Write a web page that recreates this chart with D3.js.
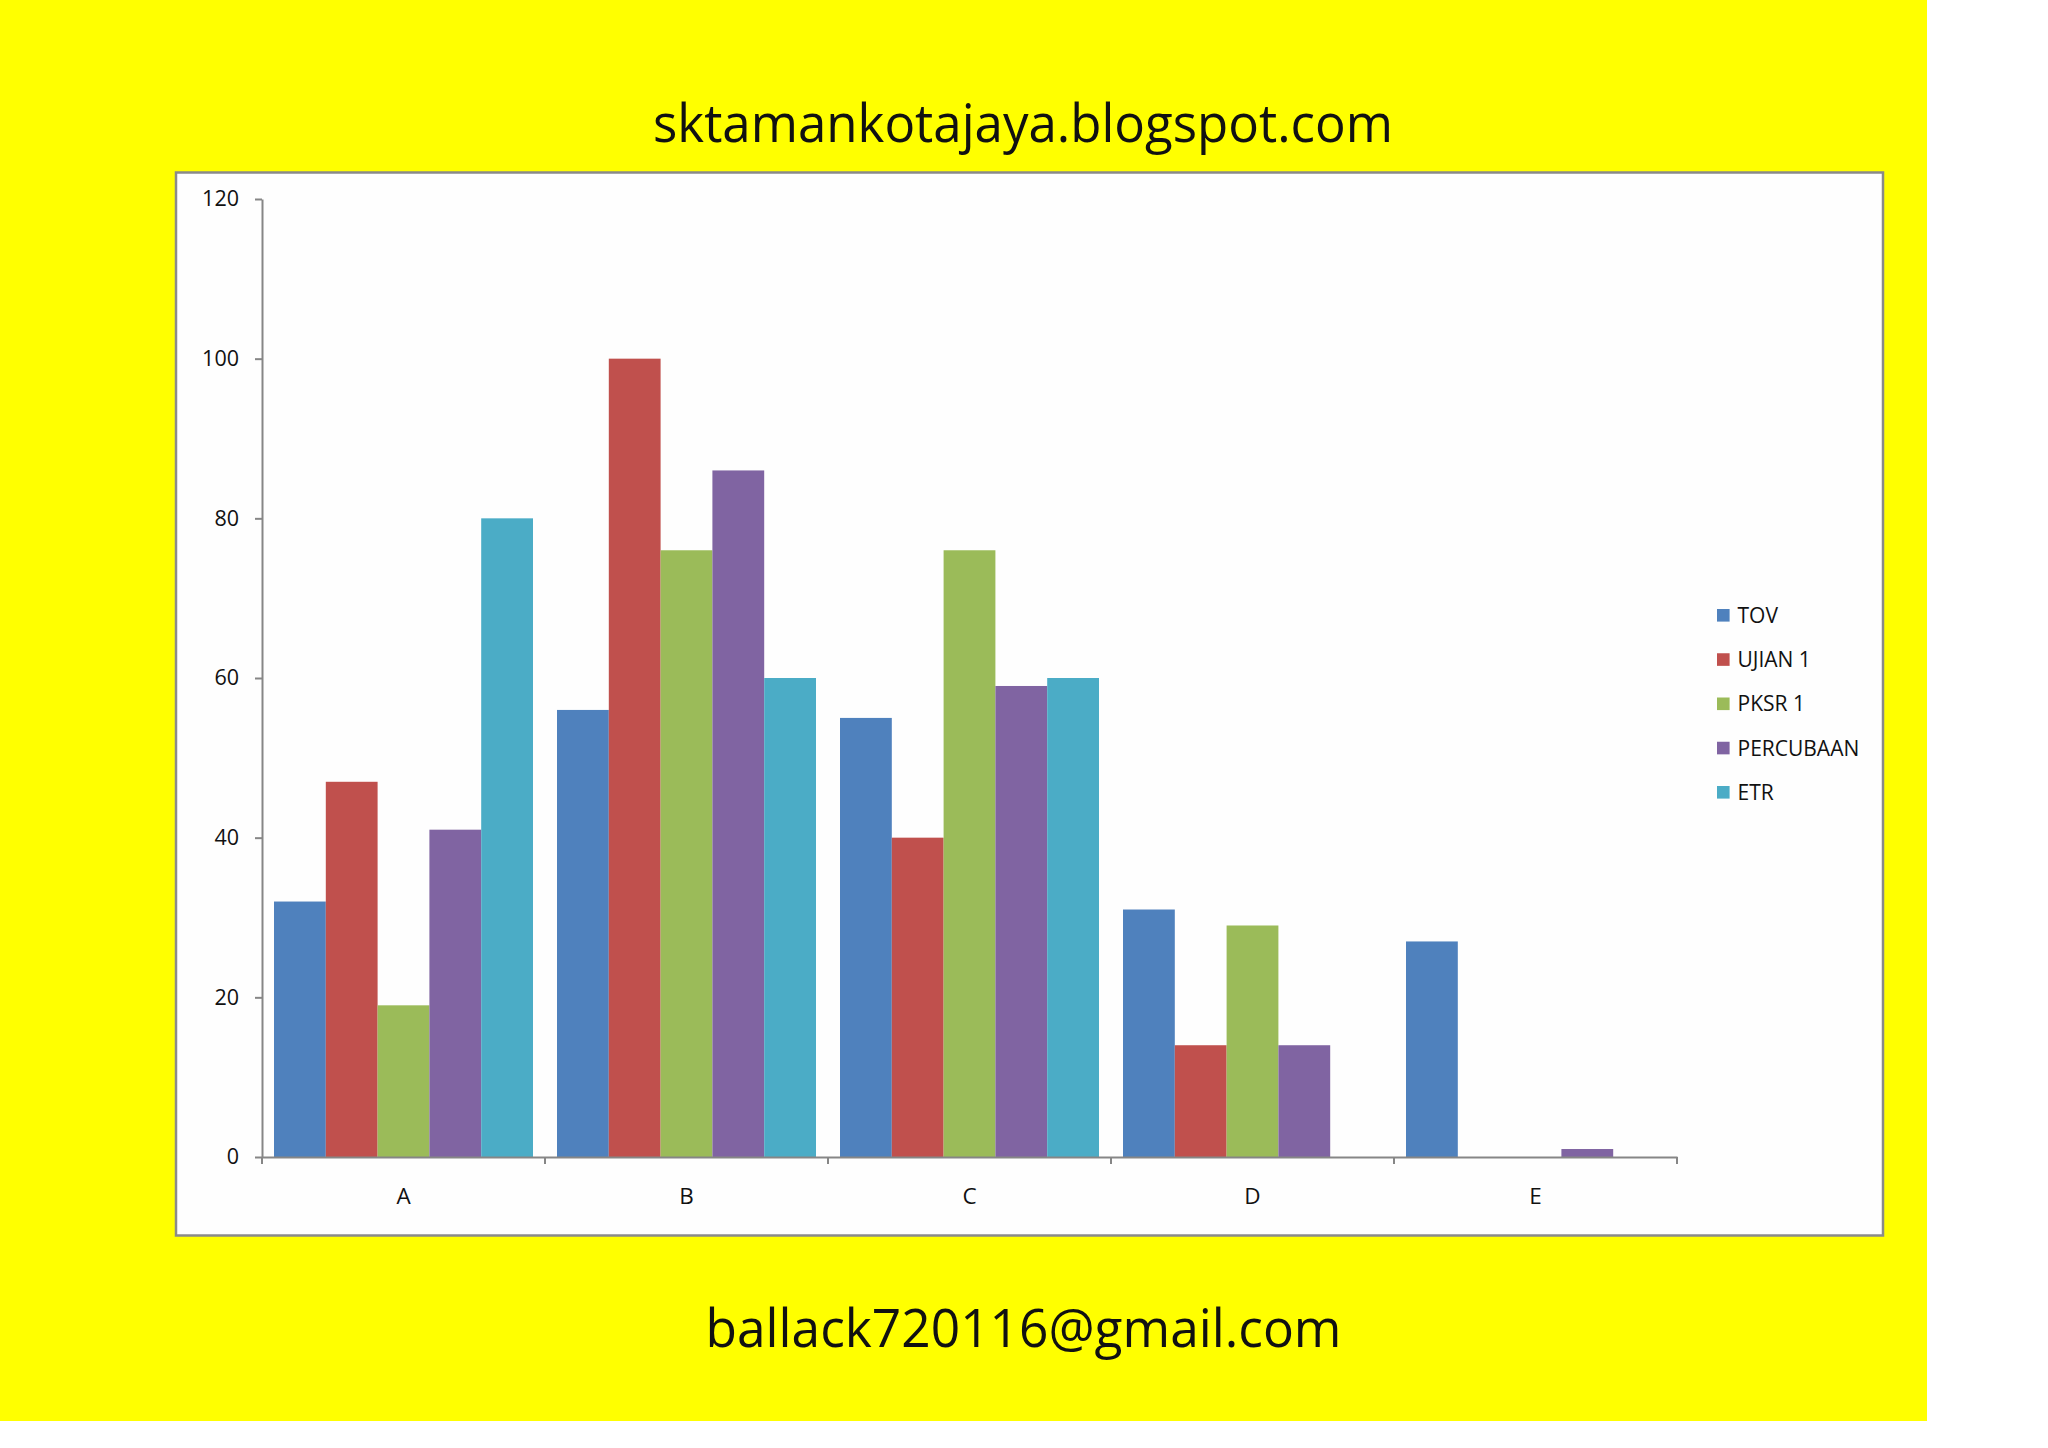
<!DOCTYPE html>
<html><head><meta charset="utf-8">
<script src="https://cdn.jsdelivr.net/npm/d3@7"></script>
<style>html,body{margin:0;padding:0;background:#fff;}svg{display:block;}</style>
</head><body>
<script>
const categories = ["A","B","C","D","E"];
const seriesNames = ["TOV","UJIAN 1","PKSR 1","PERCUBAAN","ETR"];
const TOV       = [32, 56, 55, 31, 27];
const UJIAN1    = [47, 100, 40, 14, 0];
const PKSR1     = [19, 76, 76, 29, 0];
const PERCUBAAN = [41, 86, 59, 14, 1];
const ETR       = [80, 60, 60, 0, 0];
const yTicks = [0, 20, 40, 60, 80, 100, 120];
const colors = ["#4F81BD","#C0504D","#9BBB59","#8064A2","#4BACC6"];
const titleText = "sktamankotajaya.blogspot.com";
const footerText = "ballack720116@gmail.com";

const seriesValues = [TOV, UJIAN1, PKSR1, PERCUBAAN, ETR];
const FONT = "'Open Sans', 'Noto Sans', sans-serif";

const W = 2048, H = 1448;
const svg = d3.select("body").append("svg").attr("width", W).attr("height", H);

// yellow slide background
svg.append("rect").attr("x",0).attr("y",0).attr("width",1927).attr("height",1421).attr("fill","#FFFF00");

// chart box
svg.append("rect").attr("x",176).attr("y",172.5).attr("width",1707).attr("height",1063)
  .attr("fill","#fefefe").attr("stroke","#8a8a8a").attr("stroke-width",2.5);

// titles
svg.append("text").attr("x",1023).attr("y",142).attr("text-anchor","middle")
  .attr("font-family",FONT).attr("font-size",53).attr("fill","#111")
  .attr("textLength",740).attr("lengthAdjust","spacingAndGlyphs").text(titleText);
svg.append("text").attr("x",1023.5).attr("y",1347).attr("text-anchor","middle")
  .attr("font-family",FONT).attr("font-size",53).attr("fill","#111")
  .attr("textLength",636).attr("lengthAdjust","spacingAndGlyphs").text(footerText);

// scales
const x0 = d3.scaleBand().domain(categories).range([262, 1677]).paddingInner(0).paddingOuter(0);
const gap = 12;
const x1 = d3.scaleBand().domain(seriesNames).range([gap, x0.bandwidth()-gap]).padding(0);
const y = d3.scaleLinear().domain([0,120]).range([1157, 199]);

// bars
const data = categories.map((c,i)=>({cat:c, vals: seriesNames.map((s,j)=>({s, v: seriesValues[j][i], j}))}));
const g = svg.append("g");
g.selectAll("g.cat").data(data).join("g").attr("class","cat")
  .attr("transform", d=>`translate(${x0(d.cat)},0)`)
  .selectAll("rect").data(d=>d.vals.filter(v=>v.v>0)).join("rect")
  .attr("x", d=>x1(d.s)).attr("width", x1.bandwidth())
  .attr("y", d=>y(d.v)).attr("height", d=>y(0)-y(d.v))
  .attr("fill", d=>colors[d.j]);

// y axis
const yAxis = d3.axisLeft(y).tickValues(yTicks).tickSize(7).tickSizeOuter(0).tickPadding(16);
const ya = svg.append("g").attr("transform","translate(262,0)").call(yAxis);
ya.select(".domain").attr("stroke","#868686").attr("stroke-width",2);
ya.selectAll(".tick line").attr("stroke","#868686").attr("stroke-width",2);
ya.selectAll(".tick text").attr("font-family",FONT).attr("font-size",21.5).attr("fill","#111");

// x axis: labels at category centres
const xAxis = d3.axisBottom(x0).tickSize(0).tickPadding(31).tickSizeOuter(0);
const xa = svg.append("g").attr("transform",`translate(0,${y(0)})`).call(xAxis);
xa.select(".domain").attr("stroke","#868686").attr("stroke-width",2);
xa.selectAll(".tick text").attr("font-family",FONT).attr("font-size",22.5).attr("fill","#111");
// boundary tick marks
const bounds = categories.map(c=>x0(c)).concat([x0.range()[1]]);
svg.append("g").selectAll("line").data(bounds).join("line")
  .attr("x1",d=>d).attr("x2",d=>d).attr("y1",y(0)).attr("y2",y(0)+7)
  .attr("stroke","#868686").attr("stroke-width",2);

// legend
const lg = svg.append("g");
const items = lg.selectAll("g").data(seriesNames).join("g")
  .attr("transform",(d,i)=>`translate(1717,${615.3 + i*44.25})`);
items.append("rect").attr("x",0).attr("y",-6.3).attr("width",12.6).attr("height",12.6)
  .attr("fill",(d,i)=>colors[i]);
items.append("text").attr("x",20.5).attr("y",0).attr("dy","0.36em")
  .attr("font-family",FONT).attr("font-size",21).attr("fill","#111").text(d=>d);
</script>
</body></html>
